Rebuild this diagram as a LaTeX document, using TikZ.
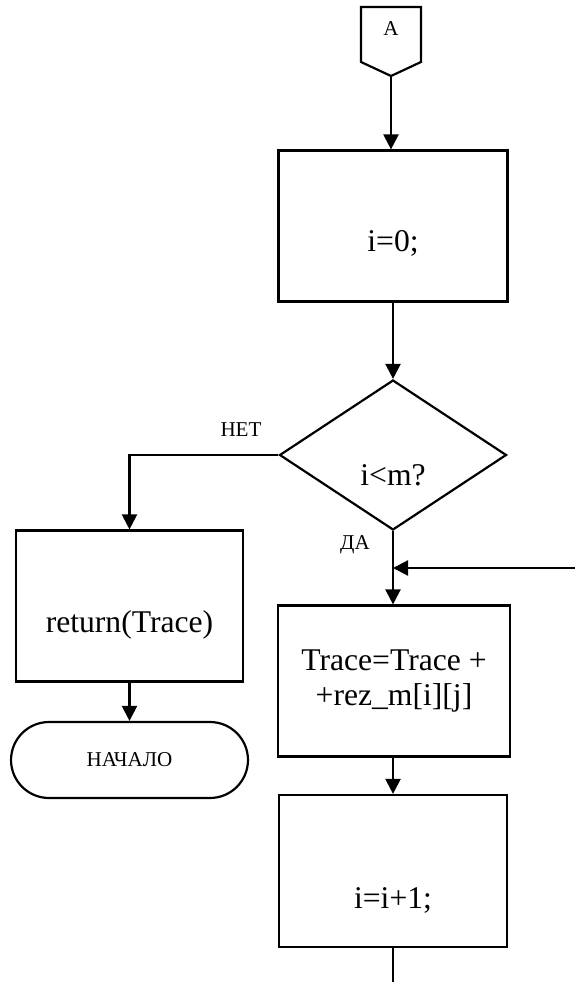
\documentclass[tikz,border=0pt]{standalone}
\usepackage{fontspec}
\setmainfont{Liberation Serif}
\usetikzlibrary{arrows.meta,shapes.geometric}
\begin{document}
\begin{tikzpicture}[
    x=0.02cm, y=-0.02cm,
    line width=1.25pt,
    big/.style={font=\fontsize{18}{19.5}\selectfont},
    small/.style={font=\fontsize{12}{14}\selectfont},
    proc/.style={draw,minimum width=4.58cm,minimum height=3.02cm,inner sep=0pt},
    cond/.style={diamond,draw,minimum width=4.54cm,minimum height=3cm,inner sep=0pt},
    term/.style={draw,rounded corners=0.76cm,minimum width=4.74cm,minimum height=1.52cm,inner sep=0pt},
    arr/.style={-{Triangle[length=0.3cm,width=0.3cm]}},
]
    \useasboundingbox (0,0) rectangle (575,982);

    % off-page connector A
    \draw (361,7) -- (421,7) -- (421,62) -- (391,76) coordinate (Atip) -- (361,62) -- cycle;
    \node[small] (A) at (391,29) {A};

    \node[proc,label={[big,yshift=-0.34cm]center:i=0;}] (init) at (393,226) {};
    \node[cond,label={[big,yshift=-0.4cm]center:i<m?}] (check) at (393,455) {};
    \node[proc,minimum width=4.54cm,label={[big,yshift=-0.38cm]center:return(Trace)}] (ret) at (129.5,606) {};
    \node[term,small] (fin) at (129.5,760) {НАЧАЛО};
    \node[proc,big,align=center,minimum width=4.64cm] (sum) at (394,681) {Trace=Trace +\\+rez\_m[i][j]};
    \node[proc,minimum width=4.56cm,minimum height=3.04cm,label={[big,yshift=-0.58cm]center:i=i+1;}] (inc) at (393,871) {};

    \node[small] (no) at (241,430) {НЕТ};
    \node[small] (yes) at (355,545) {ДА};

    \coordinate (back) at (575,568);
    \coordinate (down) at (393,982);

    \draw[arr] (Atip) -- (Atip |- init.north);
    \draw[arr] (init.south) -- (check.north);
    \draw[arr] (check.west) -| (ret.north);
    \draw[arr] (ret.south) -- (fin.north);
    \draw[arr] (check.south) -- (check.south |- sum.north);
    \draw[arr] (back) -- (back -| check.south);
    \draw[arr] (inc.north |- sum.south) -- (inc.north);
    \draw (inc.south) -- (down);
\end{tikzpicture}
\end{document}
